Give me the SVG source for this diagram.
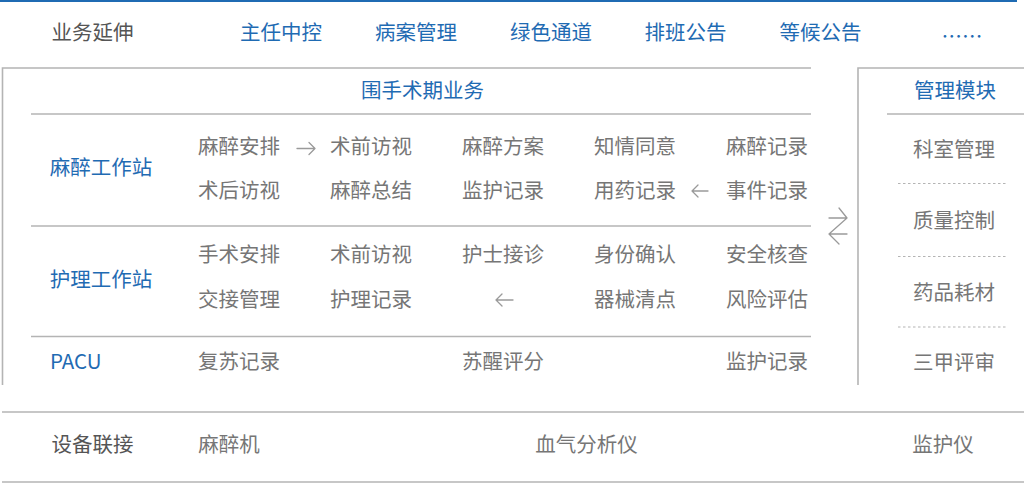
<svg xmlns="http://www.w3.org/2000/svg" width="1024" height="483" viewBox="0 0 1024 483">
<style>
text{font-family:"Noto Sans CJK SC","Noto Sans",sans-serif;font-size:20.5px;dominant-baseline:central;text-anchor:middle}
.h{fill:#555}
.b{fill:#1f6bb3}
.g{fill:#767676}
.ln{stroke:#b4b4b4;stroke-width:1.6;fill:none}
.dl{stroke:#b4b4b4;stroke-width:1.2;stroke-dasharray:2.5 2.5;fill:none}
.ar{stroke:#9a9a9a;stroke-width:1.3;fill:none;stroke-linecap:round;stroke-linejoin:round}
</style>
<rect width="1024" height="483" fill="#fff"/>
<line x1="0" y1="1" x2="1017" y2="1" stroke="#1f6bb3" stroke-width="2"/>
<g id="extension">
<text class="h" x="92.5" y="31">业务延伸</text>
<text class="b" x="281" y="31">主任中控</text>
<text class="b" x="416" y="31">病案管理</text>
<text class="b" x="551" y="31">绿色通道</text>
<text class="b" x="685.5" y="31">排班公告</text>
<text class="b" x="820.5" y="31">等候公告</text>
<text class="b" x="962" y="35">……</text>
</g>
<g id="periop">
<path class="ln" d="M811 68H2.5V385"/>
<text class="b" x="422.5" y="88.5">围手术期业务</text>
<line class="ln" x1="31" y1="114" x2="811" y2="114"/>
<line class="ln" x1="31" y1="226" x2="811" y2="226"/>
<line class="ln" x1="31" y1="336.5" x2="811" y2="336.5"/>
</g>
<g id="anesthesia">
<text class="b" x="101" y="166">麻醉工作站</text>
<text class="g" x="239" y="145">麻醉安排</text>
<text class="g" x="371" y="145">术前访视</text>
<text class="g" x="503" y="145">麻醉方案</text>
<text class="g" x="635" y="145">知情同意</text>
<text class="g" x="767" y="145">麻醉记录</text>
<text class="g" x="239" y="189">术后访视</text>
<text class="g" x="371" y="189">麻醉总结</text>
<text class="g" x="503" y="189">监护记录</text>
<text class="g" x="635" y="189">用药记录</text>
<text class="g" x="767" y="189">事件记录</text>
</g>
<g id="nursing">
<text class="b" x="101" y="278">护理工作站</text>
<text class="g" x="239" y="253">手术安排</text>
<text class="g" x="371" y="253">术前访视</text>
<text class="g" x="503" y="253">护士接诊</text>
<text class="g" x="635" y="253">身份确认</text>
<text class="g" x="767" y="253">安全核查</text>
<text class="g" x="239" y="298">交接管理</text>
<text class="g" x="371" y="298">护理记录</text>
<text class="g" x="635" y="298">器械清点</text>
<text class="g" x="767" y="298">风险评估</text>
</g>
<g id="pacu">
<text class="b" x="50" y="360" style="text-anchor:start">PACU</text>
<text class="g" x="239" y="360">复苏记录</text>
<text class="g" x="503" y="360">苏醒评分</text>
<text class="g" x="767" y="360">监护记录</text>
</g>
<g id="management">
<path class="ln" d="M1024 68H858V385"/>
<text class="b" x="955" y="89">管理模块</text>
<line class="ln" x1="887" y1="114" x2="1024" y2="114"/>
<text class="g" x="954" y="148">科室管理</text>
<line class="dl" x1="898" y1="183.5" x2="1006" y2="183.5"/>
<text class="g" x="954" y="219">质量控制</text>
<line class="dl" x1="898" y1="256.5" x2="1006" y2="256.5"/>
<text class="g" x="954" y="291">药品耗材</text>
<line class="dl" x1="898" y1="327" x2="1006" y2="327"/>
<text class="g" x="954" y="361">三甲评审</text>
</g>
<g id="devices">
<line class="ln" x1="2" y1="412" x2="1024" y2="412"/>
<text class="h" x="92.5" y="443">设备联接</text>
<text class="g" x="229" y="443">麻醉机</text>
<text class="g" x="586.5" y="443">血气分析仪</text>
<text class="g" x="943" y="443">监护仪</text>
<line class="ln" x1="2" y1="482" x2="1024" y2="482"/>
</g>
<g id="connectors">
<path class="ar" d="M297 148.5H315M309 142.5L315 148.5L309 154.5"/>
<path class="ar" d="M708 191H692M698 185L692 191L698 197"/>
<path class="ar" d="M513 300H496M502 294L496 300L502 306"/>
<path class="ar" d="M829 218H847M839 208L847 218L829 234L839 244M829 234H847"/>
</g>
</svg>
